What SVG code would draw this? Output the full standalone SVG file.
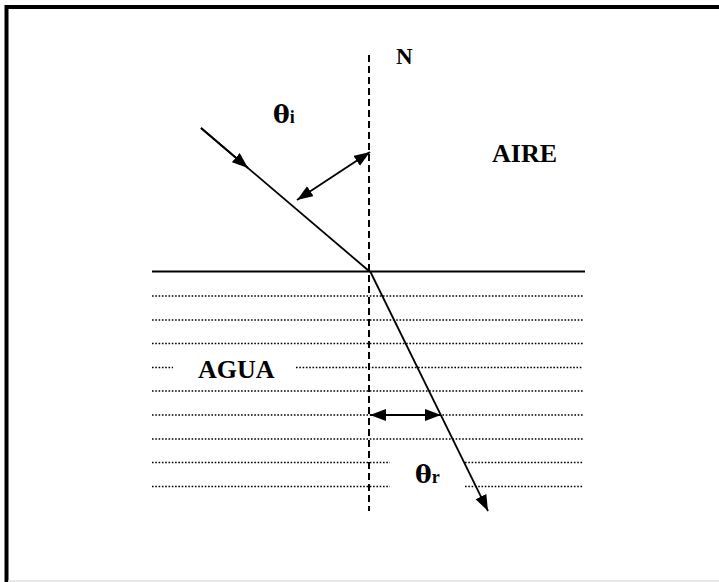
<svg xmlns="http://www.w3.org/2000/svg" width="719" height="582" viewBox="0 0 719 582">
<defs>
<marker id="ah" markerUnits="userSpaceOnUse" markerWidth="17" markerHeight="13" refX="16" refY="6" orient="auto-start-reverse" viewBox="0 0 17 13">
<path d="M0,0 L16,6 L0,12 z" fill="#000"/>
</marker>
<style>
.ln{stroke:#000;stroke-width:1.8;fill:none}
.dot{stroke:#000;stroke-width:1.4;stroke-dasharray:1.6 1.7;fill:none}
.dash{stroke:#000;stroke-width:2;stroke-dasharray:7 4;fill:none}
.lbl{font-family:"Liberation Serif","Times New Roman",serif;font-weight:bold;fill:#000}
.th{font-family:"DejaVu Serif","Liberation Serif",serif;font-weight:bold;fill:#000}
.sub{font-family:"Liberation Serif","Times New Roman",serif;font-weight:bold}
</style>
</defs>
<rect width="719" height="582" fill="#fff"/>
<g id="frame">
<path d="M6.5,582 V7 H719" fill="none" stroke="#000" stroke-width="4"/>
<line x1="8" y1="581" x2="719" y2="581" stroke="#e0e0e0" stroke-width="1.5"/>
</g>
<g id="water">
<line class="dot" x1="152" y1="296" x2="583" y2="296"/>
<line class="dot" x1="152" y1="320" x2="583" y2="320"/>
<line class="dot" x1="152" y1="343.5" x2="583" y2="343.5"/>
<line class="dot" x1="152" y1="367.5" x2="173" y2="367.5"/>
<line class="dot" x1="296" y1="367.5" x2="583" y2="367.5"/>
<line class="dot" x1="152" y1="391" x2="583" y2="391"/>
<line class="dot" x1="152" y1="415" x2="583" y2="415"/>
<line class="dot" x1="152" y1="439" x2="583" y2="439"/>
<line class="dot" x1="152" y1="462.5" x2="390" y2="462.5"/>
<line class="dot" x1="465" y1="462.5" x2="583" y2="462.5"/>
<line class="dot" x1="152" y1="486.5" x2="390" y2="486.5"/>
<line class="dot" x1="465" y1="486.5" x2="583" y2="486.5"/>
</g>
<g id="surface">
<line class="ln" x1="152" y1="271.5" x2="585" y2="271.5"/>
</g>
<g id="normal">
<line class="dash" x1="369" y1="55" x2="369" y2="511"/>
</g>
<g id="connectors">
<line class="ln" x1="201" y1="128" x2="369" y2="271"/>
<line class="ln" x1="201" y1="128" x2="248" y2="168" marker-end="url(#ah)"/>
<line class="ln" x1="297" y1="200" x2="370" y2="152" marker-start="url(#ah)" marker-end="url(#ah)"/>
<line class="ln" x1="370" y1="271" x2="488" y2="511" marker-end="url(#ah)"/>
<line class="ln" x1="370" y1="415" x2="441" y2="415" marker-start="url(#ah)" marker-end="url(#ah)"/>
</g>
<g id="labels">
<text class="lbl" x="396" y="64" font-size="23">N</text>
<text class="lbl" x="492" y="161.5" font-size="26">AIRE</text>
<text class="lbl" x="198" y="378" font-size="26">AGUA</text>
<text class="th" x="273" y="123" font-size="25">θ<tspan class="sub" font-size="18">i</tspan></text>
<text class="th" x="415" y="483" font-size="25">θ<tspan class="sub" font-size="18">r</tspan></text>
</g>
</svg>
